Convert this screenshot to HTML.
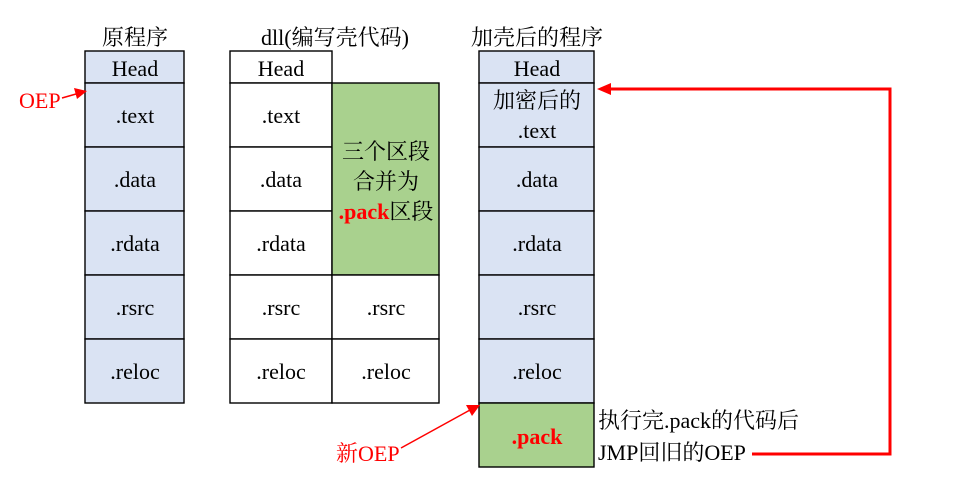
<!DOCTYPE html>
<html><head><meta charset="utf-8"><style>
html,body{margin:0;padding:0;background:#fff;}
svg{display:block;}
text{font-family:"Liberation Serif","Noto Serif CJK SC",serif;font-size:22px;fill:#000;}
text.red{fill:#ff0000;}
</style></head><body>
<svg width="956" height="489" viewBox="0 0 956 489" xmlns="http://www.w3.org/2000/svg">
<!-- Titles -->
<text x="135" y="45" text-anchor="middle">原程序</text>
<text x="335" y="45" text-anchor="middle">dll(编写壳代码)</text>
<text x="537" y="45" text-anchor="middle">加壳后的程序</text>

<!-- Column 1 -->
<g stroke="#000" stroke-width="1.4" fill="#dae3f3">
<rect x="85" y="51" width="99" height="32"/>
<rect x="85" y="83" width="99" height="64"/>
<rect x="85" y="147" width="99" height="64"/>
<rect x="85" y="211" width="99" height="64"/>
<rect x="85" y="275" width="99" height="64"/>
<rect x="85" y="339" width="99" height="64"/>
</g>
<g text-anchor="middle">
<text x="135" y="76">Head</text>
<text x="135" y="123">.text</text>
<text x="135" y="187">.data</text>
<text x="135" y="251">.rdata</text>
<text x="135" y="315">.rsrc</text>
<text x="135" y="379">.reloc</text>
</g>

<!-- Column 2 -->
<g stroke="#000" stroke-width="1.4" fill="#fff">
<rect x="230" y="51" width="102" height="32"/>
<rect x="230" y="83" width="102" height="64"/>
<rect x="230" y="147" width="102" height="64"/>
<rect x="230" y="211" width="102" height="64"/>
<rect x="230" y="275" width="102" height="64"/>
<rect x="230" y="339" width="102" height="64"/>
<rect x="332" y="83" width="107" height="192" fill="#a9d18e"/>
<rect x="332" y="275" width="107" height="64"/>
<rect x="332" y="339" width="107" height="64"/>
</g>
<g text-anchor="middle">
<text x="281" y="76">Head</text>
<text x="281" y="123">.text</text>
<text x="281" y="187">.data</text>
<text x="281" y="251">.rdata</text>
<text x="281" y="315">.rsrc</text>
<text x="281" y="379">.reloc</text>
<text x="386" y="315">.rsrc</text>
<text x="386" y="379">.reloc</text>
<text x="386" y="159">三个区段</text>
<text x="386" y="189">合并为</text>
<text x="386" y="219"><tspan style="fill:#ff0000" font-weight="bold">.pack</tspan>区段</text>
</g>

<!-- Column 3 -->
<g stroke="#000" stroke-width="1.4" fill="#dae3f3">
<rect x="479" y="51" width="115" height="32"/>
<rect x="479" y="83" width="115" height="64"/>
<rect x="479" y="147" width="115" height="64"/>
<rect x="479" y="211" width="115" height="64"/>
<rect x="479" y="275" width="115" height="64"/>
<rect x="479" y="339" width="115" height="64"/>
<rect x="479" y="403" width="115" height="64" fill="#a9d18e"/>
</g>
<g text-anchor="middle">
<text x="537" y="76">Head</text>
<text x="537" y="108">加密后的</text>
<text x="537" y="138">.text</text>
<text x="537" y="187">.data</text>
<text x="537" y="251">.rdata</text>
<text x="537" y="315">.rsrc</text>
<text x="537" y="379">.reloc</text>
<text x="537" y="444" class="red" style="fill:#ff0000" font-weight="bold">.pack</text>
</g>

<text x="598" y="428">执行完.pack的代码后</text>
<text x="598" y="460">JMP回旧的OEP</text>

<!-- OEP labels -->
<text x="19" y="108" class="red" style="fill:#ff0000">OEP</text>
<text x="336" y="461" class="red" style="fill:#ff0000">新OEP</text>

<!-- Arrows -->
<g stroke="#ff0000" fill="none">
<line x1="62" y1="98" x2="76" y2="94" stroke-width="1.5"/>
<line x1="401" y1="448" x2="470" y2="410" stroke-width="1.5"/>
<polyline points="752,454 890,454 890,89 608,89" stroke-width="3"/>
</g>
<g fill="#ff0000">
<polygon points="87,91 74,88 77,99"/>
<polygon points="480,405 466,405 472,416"/>
<polygon points="597,89 611,83 611,95"/>
</g>
</svg>
</body></html>
